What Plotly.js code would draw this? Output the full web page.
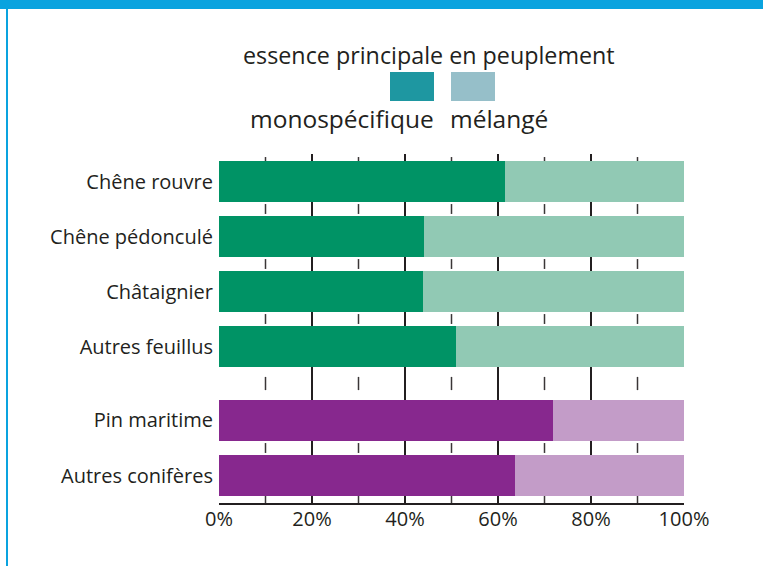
<!DOCTYPE html>
<html>
<head>
<meta charset="utf-8">
<script src="https://cdn.plot.ly/plotly-3.0.1.min.js"></script>
<style>
  html, body { margin: 0; padding: 0; background: #ffffff; }
  #wrap { position: relative; width: 763px; height: 566px; overflow: hidden; }
  #chart { position: absolute; left: 0; top: 0; width: 763px; height: 566px; }
  #topbar { position: absolute; left: 0; top: 0; width: 763px; height: 9px; background: #0aa3df; z-index: 5; }
  #leftbar { position: absolute; left: 6px; top: 0; width: 2px; height: 566px; background: #0aa3df; z-index: 5; }
</style>
</head>
<body>
<div id="wrap">
  <div id="chart"></div>
  <div id="topbar"></div>
  <div id="leftbar"></div>
</div>
<script>
// ---- data ----
const categories = ["Chêne rouvre", "Chêne pédonculé", "Châtaignier", "Autres feuillus", "Pin maritime", "Autres conifères"];
const groups = ["feuillus", "feuillus", "feuillus", "feuillus", "conifères", "conifères"];
const monoValues = [61.5, 44.1, 43.9, 51.0, 71.8, 63.7];
const melangeValues = [38.5, 55.9, 56.1, 49.0, 28.2, 36.3];
const xTickVals = [0, 20, 40, 60, 80, 100];
const xTickText = ["0%", "20%", "40%", "60%", "80%", "100%"];
const minorTickVals = [10, 30, 50, 70, 90];
const legendTitle = "essence principale en peuplement";
const seriesNames = ["monospécifique", "mélangé"];
const legendColors = ["#1e97a1", "#96bfc9"];
const monoColorByGroup = { "feuillus": "#009365", "conifères": "#87288e" };
const melangeColorByGroup = { "feuillus": "#91c9b4", "conifères": "#c39cc8" };

// ---- layout helpers ----
const W = 763, H = 566;
const M = { l: 219, r: 79, t: 154, b: 63 };
const PW = W - M.l - M.r, PH = H - M.t - M.b;
const px2x = px => (px - M.l) / PW;
const px2y = py => (H - M.b - py) / PH;
const groupGap = 0.345;
const barWidth = 0.745;
const groupOrder = [];
groups.forEach(g => { if (!groupOrder.includes(g)) groupOrder.push(g); });
const yPos = categories.map((c, i) => i + groupOrder.indexOf(groups[i]) * groupGap);
const yMin = yPos[0] - 0.5, yMax = yPos[yPos.length - 1] + 0.5;
const textColor = "#231f20";
const FONT = "Open Sans, Noto Sans, sans-serif";

const traces = [
  {
    type: "bar", orientation: "h", name: seriesNames[0],
    y: yPos, x: monoValues, width: barWidth,
    marker: { color: groups.map(g => monoColorByGroup[g]), line: { width: 0 } },
    hoverinfo: "skip", showlegend: false
  },
  {
    type: "bar", orientation: "h", name: seriesNames[1],
    y: yPos, x: melangeValues, width: barWidth,
    marker: { color: groups.map(g => melangeColorByGroup[g]), line: { width: 0 } },
    hoverinfo: "skip", showlegend: false
  }
];

// minor tick segments in the gaps between bars
const shapes = [];
const half = barWidth / 2;
const gaps = [];
gaps.push([yMin + 0.055, yPos[0] - half]);
for (let i = 0; i < yPos.length - 1; i++) {
  const c = (yPos[i] + yPos[i + 1]) / 2;
  const big = (yPos[i + 1] - yPos[i]) > 1.1;
  const h = big ? 0.12 : 0.09;
  gaps.push([c - h, c + h]);
}
gaps.push([yPos[yPos.length - 1] + half, yMax]);
gaps.forEach(([a, b]) => {
  minorTickVals.forEach(v => {
    shapes.push({ type: "line", layer: "below", xref: "x", yref: "y", x0: v, x1: v, y0: a, y1: b,
      line: { color: "#3a3637", width: 1.5 } });
  });
});

// legend swatches
shapes.push({ type: "rect", xref: "paper", yref: "paper", x0: px2x(390), x1: px2x(434), y0: px2y(101), y1: px2y(72),
  fillcolor: legendColors[0], line: { width: 0 } });
shapes.push({ type: "rect", xref: "paper", yref: "paper", x0: px2x(451), x1: px2x(495), y0: px2y(101), y1: px2y(72),
  fillcolor: legendColors[1], line: { width: 0 } });

const annotations = [
  { text: legendTitle, xref: "paper", yref: "paper", x: px2x(428.5), y: px2y(55), xanchor: "center", yanchor: "middle",
    showarrow: false, font: { family: FONT, size: 23.3, color: textColor } },
  { text: seriesNames[0], xref: "paper", yref: "paper", x: px2x(436), y: px2y(118), xanchor: "right", yanchor: "middle",
    showarrow: false, font: { family: FONT, size: 24.5, color: textColor } },
  { text: seriesNames[1], xref: "paper", yref: "paper", x: px2x(448), y: px2y(118), xanchor: "left", yanchor: "middle",
    showarrow: false, font: { family: FONT, size: 24.5, color: textColor } }
];

const layout = {
  width: W, height: H,
  margin: M,
  paper_bgcolor: "#ffffff", plot_bgcolor: "#ffffff",
  barmode: "stack",
  showlegend: false,
  font: { family: FONT, size: 20, color: textColor },
  xaxis: {
    range: [0, 100], tickvals: xTickVals, ticktext: xTickText,
    showgrid: true, gridcolor: "#231f20", gridwidth: 2,
    zeroline: false,
    showline: true, linecolor: "#231f20", linewidth: 2,
    ticks: "", ticklabelstandoff: -3,
    tickfont: { family: FONT, size: 20, color: textColor },
    fixedrange: true
  },
  yaxis: {
    range: [yMax, yMin], tickvals: yPos, ticktext: categories,
    showgrid: false, zeroline: false, showline: false, ticks: "",
    ticklabelstandoff: 5,
    tickfont: { family: FONT, size: 20, color: textColor },
    fixedrange: true
  },
  shapes: shapes,
  annotations: annotations
};

Plotly.newPlot("chart", traces, layout, { displayModeBar: false, staticPlot: true });
</script>
</body>
</html>
